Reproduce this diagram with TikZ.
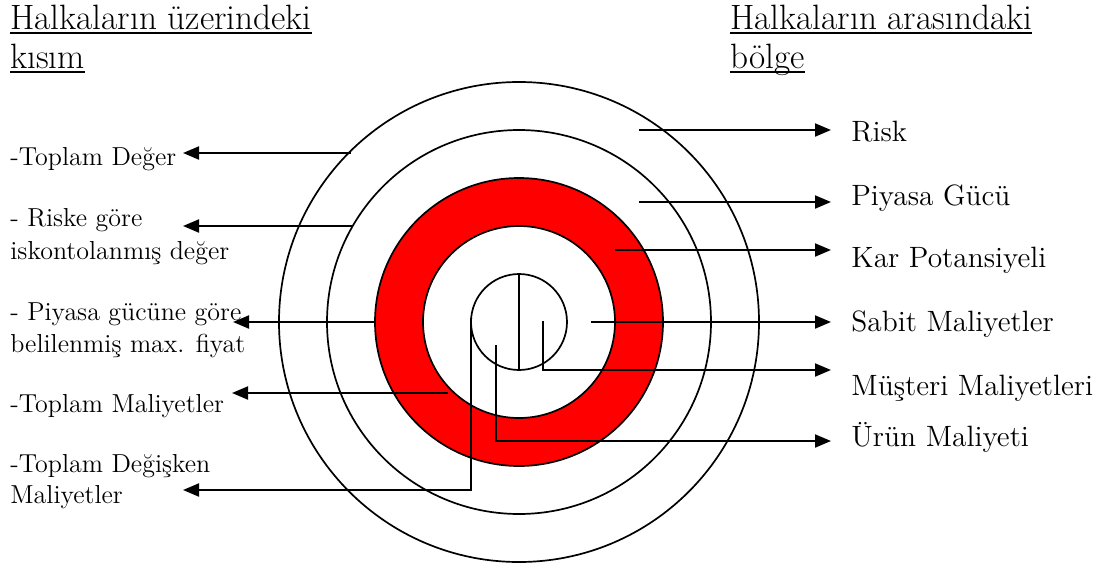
\documentclass[tikz,border=0pt]{standalone}
\usepackage{fontspec}
\usetikzlibrary{arrows.meta}
\begin{document}
\begin{tikzpicture}[x=0.5pt,y=-0.5pt,
  ring/.style={line width=0.85pt},
  lead/.style={line width=1pt,line join=miter},
  arr/.style={lead,-{Triangle[length=8pt,width=6.5pt]}},
  lbl/.style={inner sep=0pt,anchor=base west,font=\fontsize{13}{16.5}\selectfont},
  rlbl/.style={inner sep=0pt,anchor=base west,font=\fontsize{14.7}{18}\selectfont},
  hdr/.style={inner sep=0pt,anchor=base west,font=\fontsize{17.6}{21}\selectfont},
  uline/.style={line width=1pt}]
\useasboundingbox[fill=white] (0,0) rectangle (1120,569);
\coordinate (c) at (519,322);
% red ring
\fill[red,even odd rule] (c) circle[radius=72pt] (c) circle[radius=48pt];
% circles
\draw[ring] (c) circle[radius=120pt];
\draw[ring] (c) circle[radius=96pt];
\draw[ring] (c) circle[radius=72pt];
\draw[ring] (c) circle[radius=48pt];
\draw[ring] (c) circle[radius=24pt];
% vertical diameter of small circle
\coordinate (st) at (519,274);
\coordinate (sb) at (519,370);
\draw[lead] (st) -- (sb);
% headers
\node[hdr] (h1a) at (10,29) {Halkaların üzerindeki};
\node[hdr] (h1b) at (10,68) {kısım};
\node[hdr] (h2a) at (730,29) {Halkaların arasındaki};
\node[hdr] (h2b) at (730,68) {bölge};
\foreach \n in {h1a,h1b,h2a,h2b}
  \draw[uline] ([yshift=-2pt]\n.base west) -- ([yshift=-2pt]\n.base east);
% left labels
\node[lbl] (l1) at (10,165) {-Toplam Değer};
\node[lbl] (l2a) at (10,226) {- Riske göre};
\node[lbl] (l2b) at (10,259) {iskontolanmış değer};
\node[lbl] (l3a) at (10,320) {- Piyasa gücüne göre};
\node[lbl] (l3b) at (10,352) {belilenmiş max. fiyat};
\node[lbl] (l4) at (10,412) {-Toplam Maliyetler};
\node[lbl] (l5a) at (10,472) {-Toplam Değişken};
\node[lbl] (l5b) at (10,503) {Maliyetler};
% right labels
\node[rlbl] (r1) at (851,141) {Risk};
\node[rlbl] (r2) at (851,205) {Piyasa Gücü};
\node[rlbl] (r3) at (851,267) {Kar Potansiyeli};
\node[rlbl] (r4) at (851,331) {Sabit Maliyetler};
\node[rlbl] (r5) at (851,395) {Müşteri Maliyetleri};
\node[rlbl] (r6) at (851,446) {Ürün Maliyeti};
% left arrows
\coordinate (s1) at (351,153); \coordinate (t1) at (183,153);
\coordinate (s2) at (352,226); \coordinate (t2) at (183,226);
\coordinate (s3) at (375,322); \coordinate (t3) at (233,322);
\coordinate (s4) at (448,393); \coordinate (t4) at (232,393);
\coordinate (s5) at (471,318); \coordinate (k5) at (471,490); \coordinate (t5) at (183,490);
\draw[arr] (s1) -- (t1);
\draw[arr] (s2) -- (t2);
\draw[arr] (s3) -- (t3);
\draw[arr] (s4) -- (t4);
\draw[arr] (s5) -- (k5) -- (t5);
% right arrows
\coordinate (a1) at (639,130); \coordinate (u1) at (831,130);
\coordinate (a2) at (639,202); \coordinate (u2) at (831,202);
\coordinate (a3) at (615,250); \coordinate (u3) at (831,250);
\coordinate (a4) at (591,322); \coordinate (u4) at (831,322);
\coordinate (a5) at (543,321); \coordinate (k6) at (543,370); \coordinate (u5) at (831,370);
\coordinate (a6) at (496,345); \coordinate (k7) at (496,441); \coordinate (u6) at (831,441);
\draw[arr] (a1) -- (u1);
\draw[arr] (a2) -- (u2);
\draw[arr] (a3) -- (u3);
\draw[arr] (a4) -- (u4);
\draw[arr] (a5) -- (k6) -- (u5);
\draw[arr] (a6) -- (k7) -- (u6);
\end{tikzpicture}
\end{document}
